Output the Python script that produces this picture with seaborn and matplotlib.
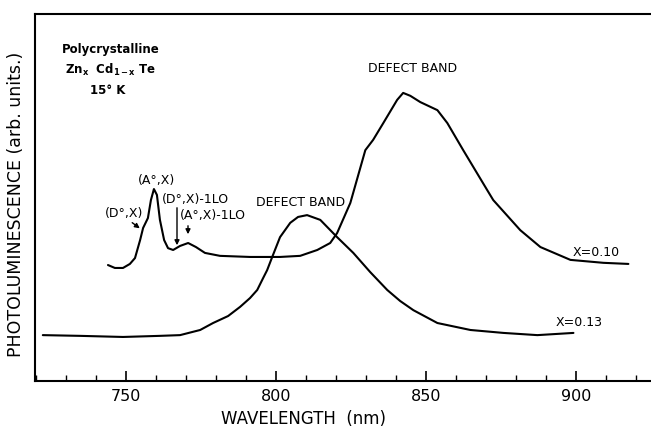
import matplotlib
matplotlib.use("Agg")
import matplotlib.pyplot as plt
import seaborn as sns
import pandas as pd
from matplotlib.ticker import MultipleLocator

# ---- data ----
wl_x010 = [744.0, 746.3, 749.0, 751.3, 753.0, 754.7, 755.7, 757.3, 758.3, 759.3,
           760.3, 761.3, 762.7, 764.0, 765.7, 768.0, 770.7, 773.3, 776.3, 781.3,
           791.3, 801.3, 808.0, 813.7, 818.0, 820.3, 824.7, 829.7, 832.3, 835.7,
           840.3, 842.3, 844.7, 848.0, 853.7, 857.0, 862.3, 870.3, 872.3, 881.3,
           888.0, 898.0, 909.0, 917.3]
pl_x010 = [31.6, 30.8, 30.8, 31.9, 33.5, 38.4, 41.7, 44.4, 49.3, 52.3,
           50.7, 43.9, 38.4, 36.2, 35.7, 36.8, 37.6, 36.5, 34.9, 34.1,
           33.8, 33.8, 34.1, 35.7, 37.6, 40.3, 48.5, 62.9, 65.7, 70.3,
           76.6, 78.5, 77.7, 76.0, 73.8, 70.3, 62.9, 52.0, 49.3, 41.1,
           36.5, 33.0, 32.2, 31.9]

wl_x013 = [722.3, 734.7, 749.0, 761.3, 768.0, 774.7, 779.0, 784.0, 788.0, 791.3,
           793.7, 795.7, 797.0, 798.7, 801.3, 804.7, 807.3, 810.3, 814.7, 820.3,
           825.7, 831.3, 837.0, 841.3, 845.7, 853.7, 864.7, 875.7, 887.0, 899.0]
pl_x013 = [12.5, 12.3, 12.0, 12.3, 12.5, 13.9, 15.8, 17.7, 20.2, 22.6,
           24.8, 28.1, 30.2, 33.8, 39.2, 43.1, 44.7, 45.2, 43.9, 39.2,
           34.9, 29.7, 24.8, 21.8, 19.3, 15.8, 13.9, 13.1, 12.5, 13.1]

series_labels = ["X=0.10", "X=0.13"]
x_ticks = [750, 800, 850, 900]

df = pd.concat([
    pd.DataFrame({"wl": wl_x010, "pl": pl_x010, "s": series_labels[0]}),
    pd.DataFrame({"wl": wl_x013, "pl": pl_x013, "s": series_labels[1]}),
])

sns.set_style("ticks")
plt.rcParams["font.family"] = ["Liberation Sans Narrow", "DejaVu Sans"]
plt.rcParams["text.color"] = "black"
plt.rcParams["axes.labelcolor"] = "black"
plt.rcParams["xtick.color"] = "black"

fig = plt.figure(figsize=(6.51, 4.30), dpi=100)
ax = fig.add_axes([35/651, 49/430, 1 - 35/651 + 0.01, (381-14)/430])

for lab in series_labels:
    sns.lineplot(data=df[df["s"] == lab], x="wl", y="pl", ax=ax, color="black",
                 linewidth=1.5, sort=False, estimator=None, legend=False)

ax.set_xlim(719.7, 927)
ax.set_ylim(0, 100)
ax.set_yticks([])
ax.set_xticks(x_ticks)
ax.set_xticklabels([str(t) for t in x_ticks], fontsize=11.5, color="black")
ax.xaxis.set_minor_locator(MultipleLocator(10))
ax.tick_params(axis="x", which="major", direction="in", length=7, width=1.2, pad=6, color="black")
ax.tick_params(axis="x", which="minor", direction="in", length=4, width=1.0, color="black")
for sp in ["left", "bottom", "top"]:
    ax.spines[sp].set_linewidth(1.5)
    ax.spines[sp].set_color("black")
ax.spines["right"].set_visible(False)

ax.set_xlabel("WAVELENGTH  (nm)", fontsize=12, color="black")
ax.xaxis.set_label_coords((301-35)/616, -0.08)
ax.set_ylabel("PHOTOLUMINESCENCE (arb. units.)", fontsize=12.5, color="black")
ax.yaxis.set_label_coords(-0.016, 0.48)

def t(px, py, s, **kw):
    fig.text(px/651, 1 - py/430, s, color="black", **kw)

kw = dict(fontsize=8.5, fontweight="bold", va="center", ha="left")
t(62, 50, "Polycrystalline", **kw)
t(65, 70, r"Zn$_\mathregular{x}$  Cd$_\mathregular{1-x}$ Te", **kw)
t(90, 90, "15° K", **kw)
kw2 = dict(fontsize=9, va="center", ha="left")
t(138, 180, "(A°,X)", **kw2)
t(162, 199, "(D°,X)-1LO", **kw2)
t(105, 214, "(D°,X)", **kw2)
t(180, 215, "(A°,X)-1LO", **kw2)
t(256, 203, "DEFECT BAND", **kw2)
t(368, 68, "DEFECT BAND", **kw2)
t(573, 252, "X=0.10", **kw2)
t(556, 323, "X=0.13", **kw2)

def arrow(x0, y0, x1, y1):
    ax.annotate("", xy=fig.transFigure.transform((x1/651, 1 - y1/430)), xycoords="figure pixels",
                xytext=fig.transFigure.transform((x0/651, 1 - y0/430)), textcoords="figure pixels",
                arrowprops=dict(arrowstyle="-|>", color="black", lw=1.0, mutation_scale=7))

arrow(130, 221, 142, 230)
arrow(177, 205, 177, 248)
arrow(188, 223, 188, 237)

fig.savefig("out.png", dpi=100)
